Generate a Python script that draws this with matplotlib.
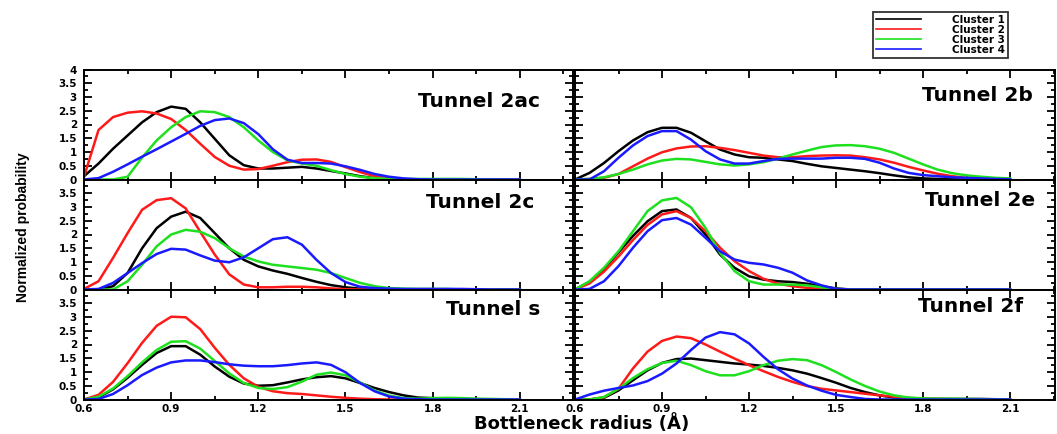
#Imports
import numpy as np
import matplotlib
matplotlib.use('Agg')
import matplotlib.pyplot as plt
from matplotlib.ticker import MultipleLocator

#Bottleneck radius grid (Angstrom), one value every 0.05
radius = [0.60, 0.65, 0.70, 0.75, 0.80, 0.85, 0.90, 0.95, 1.00, 1.05, 1.10,
          1.15, 1.20, 1.25, 1.30, 1.35, 1.40, 1.45, 1.50, 1.55, 1.60, 1.65,
          1.70, 1.75, 1.80, 1.85, 1.90, 1.95, 2.00, 2.05, 2.10]

cluster_names = ['Cluster 1', 'Cluster 2', 'Cluster 3', 'Cluster 4']
cluster_colors = ['#000000', '#ff1a1a', '#1ee01e', '#1a1aff']

#Tunnel 2ac
t2ac_c1 = [0.12, 0.58, 1.12, 1.6, 2.08, 2.45, 2.65, 2.57, 2.08, 1.48, 0.88, 0.52, 0.4, 0.4, 0.43, 0.46,
           0.4, 0.31, 0.22, 0.12, 0.05, 0.01, 0, 0, 0, 0, 0, 0, 0, 0, 0]
t2ac_c2 = [0.1, 1.8, 2.27, 2.43, 2.48, 2.4, 2.2, 1.8, 1.3, 0.82, 0.5, 0.36, 0.38, 0.5, 0.63, 0.72,
           0.73, 0.64, 0.45, 0.27, 0.12, 0.04, 0.01, 0, 0, 0, 0, 0.01, 0.01, 0, 0]
t2ac_c3 = [0, 0, 0, 0.1, 0.8, 1.42, 1.9, 2.27, 2.48, 2.45, 2.27, 1.9, 1.42, 1.0, 0.7, 0.58,
           0.5, 0.34, 0.2, 0.1, 0.05, 0.02, 0.02, 0.02, 0.02, 0.02, 0.02, 0.01, 0, 0, 0]
t2ac_c4 = [0, 0.05, 0.28, 0.55, 0.83, 1.1, 1.38, 1.66, 1.95, 2.16, 2.22, 2.05, 1.65, 1.1, 0.72, 0.6,
           0.6, 0.58, 0.48, 0.35, 0.2, 0.1, 0.04, 0.01, 0, 0, 0, 0, 0, 0, 0]

#Tunnel 2c
t2c_c1 = [0, 0, 0.12, 0.6, 1.5, 2.23, 2.65, 2.83, 2.6, 2.05, 1.5, 1.08, 0.84, 0.69, 0.57, 0.42,
          0.28, 0.16, 0.08, 0.03, 0.01, 0, 0, 0, 0, 0, 0, 0, 0, 0, 0]
t2c_c2 = [0.02, 0.3, 1.15, 2.05, 2.9, 3.25, 3.32, 2.95, 2.1, 1.27, 0.55, 0.18, 0.08, 0.08, 0.1, 0.1,
          0.08, 0.04, 0.01, 0, 0, 0, 0, 0, 0, 0, 0, 0, 0, 0, 0]
t2c_c3 = [0, 0, 0, 0.3, 0.9, 1.57, 2.0, 2.17, 2.1, 1.87, 1.5, 1.2, 1.02, 0.9, 0.84, 0.78,
          0.72, 0.6, 0.42, 0.24, 0.12, 0.05, 0.03, 0.02, 0.02, 0.02, 0, 0, 0, 0, 0]
t2c_c4 = [0, 0.02, 0.24, 0.6, 0.96, 1.29, 1.48, 1.45, 1.24, 1.05, 0.99, 1.17, 1.5, 1.83, 1.9, 1.63,
          1.08, 0.6, 0.27, 0.1, 0.05, 0.03, 0.02, 0.02, 0.02, 0.02, 0.02, 0.01, 0, 0, 0]

#Tunnel s
ts_c1 = [0, 0.08, 0.37, 0.79, 1.26, 1.69, 1.94, 1.94, 1.63, 1.2, 0.83, 0.58, 0.5, 0.52, 0.62, 0.73,
         0.81, 0.85, 0.77, 0.6, 0.42, 0.27, 0.15, 0.07, 0.05, 0.03, 0.02, 0.01, 0, 0, 0]
ts_c2 = [0, 0.17, 0.64, 1.32, 2.06, 2.68, 3.01, 2.99, 2.56, 1.88, 1.26, 0.77, 0.46, 0.3, 0.23, 0.2,
         0.15, 0.1, 0.06, 0.03, 0.01, 0, 0, 0, 0, 0, 0, 0, 0, 0, 0]
ts_c3 = [0, 0.1, 0.4, 0.85, 1.35, 1.8, 2.1, 2.12, 1.85, 1.4, 0.95, 0.6, 0.42, 0.38, 0.45, 0.65,
         0.9, 0.98, 0.88, 0.62, 0.33, 0.14, 0.05, 0.03, 0.05, 0.06, 0.05, 0.03, 0.02, 0.01, 0]
ts_c4 = [0, 0.02, 0.2, 0.52, 0.89, 1.16, 1.35, 1.42, 1.42, 1.36, 1.28, 1.23, 1.21, 1.21, 1.25, 1.31,
         1.35, 1.26, 0.99, 0.6, 0.3, 0.11, 0.03, 0.01, 0, 0, 0, 0, 0, 0, 0]

#Tunnel 2b
t2b_c1 = [0, 0.24, 0.6, 1.03, 1.42, 1.72, 1.88, 1.88, 1.7, 1.39, 1.09, 0.91, 0.81, 0.79, 0.73, 0.67,
          0.57, 0.48, 0.42, 0.36, 0.3, 0.23, 0.15, 0.08, 0.04, 0.02, 0.01, 0, 0, 0, 0]
t2b_c2 = [0, 0.02, 0.06, 0.2, 0.48, 0.76, 0.99, 1.13, 1.2, 1.21, 1.15, 1.07, 0.97, 0.87, 0.81, 0.81,
          0.85, 0.87, 0.88, 0.87, 0.81, 0.73, 0.61, 0.46, 0.33, 0.21, 0.12, 0.06, 0.03, 0.01, 0]
t2b_c3 = [0, 0.02, 0.08, 0.2, 0.36, 0.55, 0.69, 0.75, 0.73, 0.64, 0.55, 0.51, 0.55, 0.63, 0.76, 0.91,
          1.05, 1.18, 1.24, 1.25, 1.21, 1.12, 0.97, 0.76, 0.55, 0.36, 0.23, 0.15, 0.1, 0.06, 0.04]
t2b_c4 = [0, 0, 0.3, 0.79, 1.24, 1.58, 1.76, 1.76, 1.45, 1.03, 0.73, 0.58, 0.58, 0.67, 0.75, 0.76,
          0.76, 0.76, 0.79, 0.79, 0.75, 0.61, 0.4, 0.24, 0.16, 0.12, 0.08, 0.06, 0.04, 0.02, 0.01]

#Tunnel 2e
t2e_c1 = [0, 0.28, 0.75, 1.35, 1.95, 2.48, 2.85, 2.91, 2.6, 2.0, 1.27, 0.79, 0.48, 0.36, 0.3, 0.27,
          0.21, 0.12, 0.04, 0, 0, 0, 0, 0, 0, 0, 0, 0, 0, 0, 0]
t2e_c2 = [0, 0.22, 0.65, 1.2, 1.8, 2.35, 2.73, 2.85, 2.6, 2.12, 1.52, 1.03, 0.67, 0.39, 0.21, 0.12,
          0.06, 0.03, 0.01, 0, 0, 0, 0, 0, 0, 0, 0, 0, 0, 0, 0]
t2e_c3 = [0, 0.3, 0.79, 1.39, 2.12, 2.85, 3.24, 3.33, 2.99, 2.24, 1.33, 0.67, 0.3, 0.18, 0.18, 0.18,
          0.15, 0.08, 0.02, 0, 0, 0, 0, 0, 0, 0, 0, 0, 0, 0, 0]
t2e_c4 = [0, 0.02, 0.3, 0.85, 1.52, 2.12, 2.52, 2.6, 2.36, 1.88, 1.39, 1.09, 0.97, 0.91, 0.79, 0.61,
          0.33, 0.15, 0.02, 0, 0, 0, 0, 0, 0, 0, 0, 0, 0, 0, 0]

#Tunnel 2f
t2f_c1 = [0, 0, 0.06, 0.33, 0.7, 1.06, 1.33, 1.47, 1.49, 1.43, 1.37, 1.31, 1.27, 1.22, 1.15, 1.06,
          0.94, 0.78, 0.61, 0.42, 0.27, 0.15, 0.07, 0.04, 0.02, 0.02, 0.02, 0.02, 0.02, 0.01, 0]
t2f_c2 = [0, 0, 0.08, 0.39, 1.13, 1.74, 2.13, 2.29, 2.23, 2.0, 1.74, 1.49, 1.25, 1.03, 0.82, 0.64,
          0.49, 0.39, 0.33, 0.27, 0.21, 0.15, 0.1, 0.06, 0.03, 0.02, 0.01, 0, 0, 0, 0]
t2f_c3 = [0, 0, 0.09, 0.39, 0.78, 1.1, 1.33, 1.41, 1.25, 1.03, 0.88, 0.88, 1.03, 1.25, 1.41, 1.47,
          1.43, 1.25, 1.0, 0.73, 0.49, 0.29, 0.15, 0.07, 0.04, 0.03, 0.03, 0.02, 0.01, 0, 0]
t2f_c4 = [0, 0.18, 0.32, 0.42, 0.51, 0.67, 0.94, 1.31, 1.8, 2.25, 2.45, 2.37, 2.04, 1.55, 1.1, 0.76,
          0.51, 0.32, 0.17, 0.09, 0.02, 0, 0, 0, 0, 0, 0, 0, 0, 0, 0]

#panel title, its series, grid cell and the title's right end (data coords)
panels = [
    ('Tunnel 2ac', [t2ac_c1, t2ac_c2, t2ac_c3, t2ac_c4], 0, 0, 2.17, 2.85),
    ('Tunnel 2b', [t2b_c1, t2b_c2, t2b_c3, t2b_c4], 0, 1, 2.18, 3.05),
    ('Tunnel 2c', [t2c_c1, t2c_c2, t2c_c3, t2c_c4], 1, 0, 2.15, 3.16),
    ('Tunnel 2e', [t2e_c1, t2e_c2, t2e_c3, t2e_c4], 1, 1, 2.185, 3.25),
    ('Tunnel s', [ts_c1, ts_c2, ts_c3, ts_c4], 2, 0, 2.17, 3.26),
    ('Tunnel 2f', [t2f_c1, t2f_c2, t2f_c3, t2f_c4], 2, 1, 2.145, 3.39),
]


def style_axis(ax, row, col):
    '''
        Ticks, limits and labels for one panel
    '''
    ax.set_xlim(0.6, 2.283 if col == 0 else 2.255)
    ax.set_ylim(0, 4)
    ax.xaxis.set_major_locator(MultipleLocator(0.3))
    ax.xaxis.set_minor_locator(MultipleLocator(0.15))
    ax.yaxis.set_major_locator(MultipleLocator(0.5))
    ax.yaxis.set_minor_locator(MultipleLocator(0.25))
    ax.tick_params(which='both', direction='in', top=True, right=True, width=1.3)
    ax.tick_params(which='major', length=6)
    ax.tick_params(which='minor', length=3)
    ax.tick_params(axis='y', labelsize=7.5, pad=5)
    ax.tick_params(axis='x', labelsize=7.5, pad=3)
    for spine in ax.spines.values():
        spine.set_linewidth(1.4)
    if col == 0:
        yt = [0, 0.5, 1, 1.5, 2, 2.5, 3, 3.5, 4] if row == 0 else [0, 0.5, 1, 1.5, 2, 2.5, 3, 3.5]
        ax.set_yticks(yt)
        ax.set_yticklabels(['{:g}'.format(v) for v in yt], fontweight='bold')
    else:
        ax.set_yticklabels([])
    if row == 2:
        xt = [0.6, 0.9, 1.2, 1.5, 1.8, 2.1]
        ax.set_xticks(xt)
        ax.set_xticklabels(['{:.1f}'.format(v) for v in xt], fontweight='bold')
    else:
        ax.set_xticklabels([])


def main():
    fig = plt.figure(figsize=(10.57, 4.34), dpi=100)
    #panel edges measured in pixels on the reference
    lefts = [84 / 1057, 575 / 1057]
    widths = [(573 - 84) / 1057, (1055 - 575) / 1057]
    bottoms = [1 - 179.5 / 434, 1 - 289.5 / 434, 1 - 399.5 / 434]
    h = 110 / 434

    handles = []
    for title, series, row, col, tx, ty in panels:
        ax = fig.add_axes([lefts[col], bottoms[row], widths[col], h])
        for vals, color, name in zip(series, cluster_colors, cluster_names):
            line, = ax.plot(radius, vals, color=color, lw=1.8, label=name)
            if row == 0 and col == 0:
                handles.append(line)
        style_axis(ax, row, col)
        ax.text(tx, ty, title, ha='right', va='center', fontsize=14.5, fontweight='bold')

    #Axis labels shared by all panels
    fig.text(0.022, 1 - 227 / 434, 'Normalized probability', rotation=90, ha='center', va='center',
             fontsize=10, fontweight='bold', family='Liberation Sans')
    fig.text(582 / 1057, 1 - 424 / 434, 'Bottleneck radius (\u00c5)', ha='center', va='center',
             fontsize=13, fontweight='bold')

    leg = fig.legend(handles, cluster_names, loc='upper left', bbox_to_anchor=(873 / 1057, 1 - 12 / 434),
                     borderaxespad=0, frameon=True, fancybox=False, edgecolor='black',
                     prop={'size': 7.5, 'weight': 'bold'},
                     handlelength=4.3, handletextpad=3.0, labelspacing=0.0, borderpad=0.3)
    leg.get_frame().set_linewidth(1.3)
    for l in leg.get_lines():
        l.set_linewidth(1.2)

    fig.savefig('out.png', dpi=100)


if __name__ == '__main__':
    main()
